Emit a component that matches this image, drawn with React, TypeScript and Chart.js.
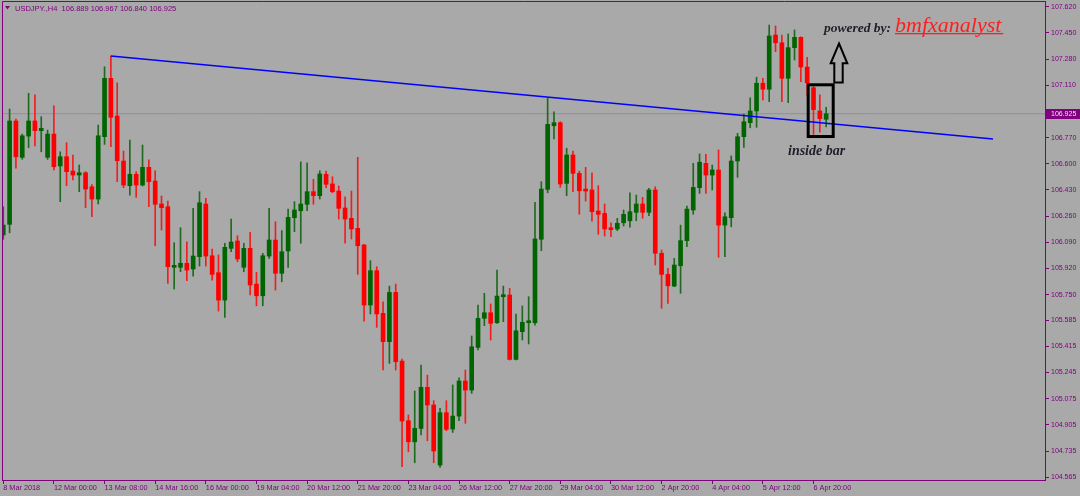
import React, { useEffect, useRef } from "react";
import { Chart, registerables } from "chart.js";

Chart.register(...registerables);

// ---- data (USDJPY H4, bar index 0 = 8 Mar 2018 16:00) ----
const opens = [
  106.138, 106.207, 106.878, 106.642, 106.780, 106.878, 106.815, 106.642, 106.793, 106.586,
  106.646, 106.553, 106.527, 106.542, 106.451, 106.371, 106.776, 107.155, 106.910, 106.618,
  106.458, 106.532, 106.462, 106.577, 106.488, 106.339, 106.321, 105.928, 105.928, 105.954,
  105.917, 105.997, 106.339, 106.003, 105.893, 105.715, 106.051, 106.099, 105.928, 106.051,
  105.819, 105.743, 106.001, 106.105, 105.889, 106.034, 106.250, 106.295, 106.337, 106.419,
  106.393, 106.532, 106.469, 106.423, 106.313, 106.246, 106.181, 106.073, 105.683, 105.906,
  105.629, 105.445, 105.765, 105.319, 104.932, 104.795, 104.882, 105.149, 105.034, 104.644,
  104.984, 104.878, 104.962, 105.190, 105.131, 105.408, 105.597, 105.633, 105.568, 105.737,
  105.748, 105.330, 105.510, 105.568, 105.568, 106.110, 106.434, 106.847, 106.867, 106.473,
  106.657, 106.538, 106.434, 106.430, 106.293, 106.278, 106.181, 106.177, 106.217, 106.230,
  106.285, 106.339, 106.285, 106.430, 106.019, 105.882, 105.806, 105.938, 106.101, 106.300,
  106.445, 106.603, 106.527, 106.560, 106.202, 106.250, 106.618, 106.776, 106.867, 106.943,
  107.123, 107.084, 107.436, 107.386, 107.155, 107.354, 107.421, 107.228, 107.094, 106.943,
  106.889,
];
const highs = [
  106.321, 106.956, 106.891, 106.793, 107.058, 107.047, 106.906, 106.819, 106.977, 106.678,
  106.737, 106.657, 106.592, 106.549, 106.465, 106.852, 107.230, 107.300, 107.126, 106.683,
  106.754, 106.549, 106.722, 106.625, 106.555, 106.391, 106.358, 106.088, 106.185, 106.094,
  106.311, 106.419, 106.376, 106.047, 106.008, 106.084, 106.241, 106.133, 106.084, 106.155,
  105.895, 106.019, 106.311, 106.224, 106.166, 106.306, 106.354, 106.613, 106.607, 106.499,
  106.555, 106.553, 106.516, 106.456, 106.386, 106.423, 106.642, 106.077, 105.971, 105.932,
  105.704, 105.806, 105.819, 105.332, 104.969, 105.125, 105.293, 105.228, 105.062, 105.012,
  105.062, 105.164, 105.211, 105.261, 105.482, 105.683, 105.759, 105.690, 105.910, 105.806,
  105.791, 105.625, 105.677, 105.737, 106.350, 106.484, 107.025, 106.938, 106.873, 106.701,
  106.683, 106.553, 106.577, 106.542, 106.458, 106.339, 106.217, 106.246, 106.300, 106.412,
  106.397, 106.382, 106.441, 106.451, 106.040, 105.921, 105.986, 106.202, 106.326, 106.603,
  106.664, 106.662, 106.592, 106.690, 106.282, 106.651, 106.798, 106.923, 107.029, 107.162,
  107.155, 107.501, 107.495, 107.436, 107.443, 107.469, 107.425, 107.291, 107.112, 107.047,
  106.967,
];
const lows = [
  106.110, 106.152, 106.571, 106.629, 106.704, 106.716, 106.678, 106.629, 106.560, 106.354,
  106.458, 106.495, 106.419, 106.315, 106.256, 106.339, 106.726, 106.711, 106.484, 106.445,
  106.397, 106.382, 106.456, 106.321, 106.068, 106.170, 105.824, 105.787, 105.899, 105.841,
  105.871, 105.936, 105.936, 105.845, 105.644, 105.603, 106.029, 105.964, 105.899, 105.748,
  105.678, 105.678, 105.986, 105.780, 105.834, 105.928, 106.159, 106.084, 106.295, 106.337,
  106.371, 106.445, 106.412, 106.241, 106.084, 106.112, 105.882, 105.579, 105.625, 105.538,
  105.261, 105.304, 105.261, 104.633, 104.730, 104.659, 104.839, 104.802, 104.659, 104.629,
  104.867, 104.856, 104.932, 104.915, 105.110, 105.391, 105.549, 105.456, 105.564, 105.575,
  105.326, 105.326, 105.456, 105.430, 105.553, 106.036, 106.412, 106.761, 106.447, 106.393,
  106.419, 106.272, 106.358, 106.228, 106.142, 106.131, 106.127, 106.166, 106.196, 106.188,
  106.230, 106.246, 106.263, 105.943, 105.662, 105.694, 105.802, 105.759, 106.062, 106.272,
  106.408, 106.408, 106.430, 105.993, 105.997, 106.191, 106.512, 106.707, 106.834, 106.837,
  107.014, 107.003, 107.328, 107.003, 106.997, 107.274, 107.133, 107.040, 106.791, 106.806,
  106.840,
];
const closes = [
  106.202, 106.878, 106.646, 106.782, 106.878, 106.815, 106.830, 106.793, 106.581, 106.646,
  106.549, 106.527, 106.542, 106.436, 106.371, 106.782, 107.155, 106.902, 106.620, 106.462,
  106.532, 106.462, 106.577, 106.484, 106.337, 106.315, 105.932, 105.938, 105.954, 105.910,
  106.001, 106.347, 106.001, 105.882, 105.715, 106.058, 106.092, 105.982, 106.051, 105.813,
  105.743, 106.003, 106.105, 105.889, 106.029, 106.252, 106.300, 106.339, 106.419, 106.393,
  106.534, 106.467, 106.419, 106.311, 106.241, 106.177, 106.068, 105.683, 105.906, 105.625,
  105.445, 105.765, 105.315, 104.930, 104.795, 104.882, 105.149, 105.034, 104.735, 104.984,
  104.876, 104.962, 105.190, 105.131, 105.412, 105.597, 105.633, 105.564, 105.741, 105.748,
  105.330, 105.516, 105.571, 105.579, 106.112, 106.436, 106.856, 106.867, 106.469, 106.657,
  106.538, 106.425, 106.423, 106.289, 106.272, 106.177, 106.172, 106.214, 106.272, 106.289,
  106.339, 106.285, 106.430, 106.019, 105.882, 105.808, 105.943, 106.101, 106.306, 106.447,
  106.610, 106.527, 106.560, 106.202, 106.256, 106.618, 106.776, 106.873, 106.943, 107.123,
  107.084, 107.430, 107.386, 107.155, 107.354, 107.421, 107.228, 107.126, 106.952, 106.893,
  106.925,
];

const xTickLabels = [
  "8 Mar 2018", "12 Mar 00:00", "13 Mar 08:00", "14 Mar 16:00", "16 Mar 00:00",
  "19 Mar 04:00", "20 Mar 12:00", "21 Mar 20:00", "23 Mar 04:00", "26 Mar 12:00",
  "27 Mar 20:00", "29 Mar 04:00", "30 Mar 12:00", "2 Apr 20:00", "4 Apr 04:00",
  "5 Apr 12:00", "6 Apr 20:00",
];
const barsPerXTick = 8;
const yTickLabels = [
  "107.620", "107.450", "107.280", "107.110", "106.770", "106.600", "106.430",
  "106.260", "106.090", "105.920", "105.750", "105.585", "105.415", "105.245",
  "105.075", "104.905", "104.735", "104.565",
];
const currentPrice = 106.925;
const currentPriceLabel = "106.925";
const headerText = "USDJPY.,H4  106.889 106.967 106.840 106.925";
const trendBars = [17, 156.36];
const trendPrices = [107.300, 106.761];
const boxBars = [127.16, 131.11];
const boxPrices = [107.113, 106.777];

// ---- styles ----
const BG = "#A9A9A9";
const AXIS = "#800080";
const BULL = "#006400";
const BEAR = "#FF0000";
const WICK_BULL = "#1F6A1F";
const WICK_BEAR = "#F21E1E";
const X_MIN = -0.2;
const X_MAX = 164.57;
const Y_MIN = 104.547;
const Y_MAX = 107.657;

export default function App() {
  const ref = useRef<HTMLCanvasElement>(null);

  useEffect(() => {
    const canvas = ref.current;
    if (!canvas) return;
    const idx = opens.map((_, i) => i);
    const bull = idx.map((i) => closes[i] >= opens[i]);

    const decor = {
      id: "decor",
      beforeDraw(chart: any) {
        const ctx = chart.ctx;
        ctx.save();
        ctx.fillStyle = BG;
        ctx.fillRect(0, 0, chart.width, chart.height);
        ctx.restore();
      },
      afterDraw(chart: any) {
        const ctx = chart.ctx;
        const a = chart.chartArea;
        const xs = chart.scales.x;
        const ys = chart.scales.y;
        ctx.save();
        // frame (left + top)
        ctx.strokeStyle = AXIS;
        ctx.lineWidth = 1;
        ctx.beginPath();
        ctx.moveTo(a.left + 0.5, a.bottom);
        ctx.lineTo(a.left + 0.5, a.top + 0.5);
        ctx.lineTo(a.right, a.top + 0.5);
        ctx.stroke();

        // current price label
        const py = ys.getPixelForValue(currentPrice);
        ctx.fillStyle = AXIS;
        ctx.fillRect(a.right + 1, Math.round(py) - 5, 36, 10);
        ctx.fillStyle = "#E6E6E6";
        ctx.font = "7px 'Liberation Sans'";
        ctx.textBaseline = "middle";
        ctx.textAlign = "left";
        ctx.fillText(currentPriceLabel, a.right + 6, py + 0.5);

        // header
        ctx.fillStyle = AXIS;
        ctx.beginPath();
        ctx.moveTo(5, 6);
        ctx.lineTo(10, 6);
        ctx.lineTo(7.5, 9.5);
        ctx.closePath();
        ctx.fill();
        ctx.font = "7.5px 'Liberation Sans'";
        ctx.textBaseline = "alphabetic";
        ctx.fillText(headerText, 15, 11);

        // inside-bar box
        const bx0 = xs.getPixelForValue(boxBars[0]);
        const bx1 = xs.getPixelForValue(boxBars[1]);
        const by0 = ys.getPixelForValue(boxPrices[0]);
        const by1 = ys.getPixelForValue(boxPrices[1]);
        ctx.strokeStyle = "#000000";
        ctx.lineWidth = 3;
        ctx.strokeRect(bx0, by0, bx1 - bx0, by1 - by0);

        // hollow up arrow
        ctx.lineWidth = 2;
        ctx.beginPath();
        ctx.moveTo(839, 43.5);
        ctx.lineTo(847.3, 63.3);
        ctx.lineTo(842.7, 63.3);
        ctx.lineTo(842.7, 82.5);
        ctx.lineTo(834.3, 82.5);
        ctx.lineTo(834.3, 63.3);
        ctx.lineTo(830.7, 63.3);
        ctx.closePath();
        ctx.stroke();

        // texts
        ctx.fillStyle = "#1E1E2A";
        ctx.textAlign = "left";
        ctx.textBaseline = "alphabetic";
        ctx.font = "italic bold 13.5px 'Liberation Serif'";
        ctx.fillText("powered by:", 824, 31.5);
        ctx.font = "italic bold 14px 'Liberation Serif'";
        ctx.fillText("inside bar", 788, 155);
        ctx.fillStyle = "#FF1E1E";
        ctx.font = "italic 22px 'Liberation Serif'";
        ctx.fillText("bmfxanalyst", 895, 31.5);
        const w = ctx.measureText("bmfxanalyst").width;
        ctx.fillRect(895, 33, w + 2, 1.3);
        ctx.restore();
      },
    };

    const chart = new Chart(canvas, {
      type: "bar",
      data: {
        datasets: [
          {
            type: "line",
            label: "bid",
            data: [
              { x: X_MIN, y: currentPrice },
              { x: X_MAX, y: currentPrice },
            ],
            borderColor: "#8E8EA2",
            borderWidth: 1,
            pointRadius: 0,
            order: 10,
          } as any,
          {
            type: "bar",
            label: "wicks",
            data: idx.map((i) => ({ x: i, y: [lows[i], highs[i]] })),
            backgroundColor: idx.map((i) => (bull[i] ? WICK_BULL : WICK_BEAR)),
            borderWidth: 0,
            grouped: false,
            barPercentage: 1,
            categoryPercentage: 1,
            maxBarThickness: 1,
            order: 5,
          } as any,
          {
            type: "bar",
            label: "bodies",
            data: idx.map((i) => ({ x: i, y: [opens[i], closes[i]] })),
            backgroundColor: idx.map((i) => (bull[i] ? BULL : BEAR)),
            borderWidth: 0,
            grouped: false,
            barPercentage: 1,
            categoryPercentage: 1,
            maxBarThickness: 4,
            minBarLength: 2,
            order: 4,
          } as any,
          {
            type: "line",
            label: "trend",
            data: trendBars.map((b, k) => ({ x: b, y: trendPrices[k] })),
            borderColor: "#0000FF",
            borderWidth: 1.6,
            pointRadius: 0,
            order: 1,
          } as any,
        ],
      },
      options: {
        animation: false,
        responsive: false,
        devicePixelRatio: 1,
        layout: { padding: { left: 2, top: 1, right: 0, bottom: 0 } },
        plugins: {
          legend: { display: false },
          tooltip: { enabled: false },
          title: { display: false },
        },
        scales: {
          x: {
            type: "linear",
            min: X_MIN,
            max: X_MAX,
            offset: false,
            afterBuildTicks: (s: any) => {
              s.ticks = xTickLabels.map((_, k) => ({ value: k * barsPerXTick }));
            },
            afterFit: (s: any) => {
              s.height = 16;
              s.paddingLeft = 0;
              s.paddingRight = 0;
            },
            grid: {
              display: true,
              drawOnChartArea: false,
              drawTicks: true,
              tickLength: 4,
              color: AXIS,
              offset: false,
            },
            border: { display: true, color: AXIS, width: 1 },
            ticks: {
              autoSkip: false,
              maxRotation: 0,
              minRotation: 0,
              align: "start",
              padding: 0,
              color: AXIS,
              font: { family: "'Liberation Sans'", size: 7.3 },
              callback: (_v: any, i: number) => xTickLabels[i] ?? "",
            },
          },
          y: {
            type: "linear",
            position: "right",
            min: Y_MIN,
            max: Y_MAX,
            afterBuildTicks: (s: any) => {
              s.ticks = yTickLabels.map((l) => ({ value: parseFloat(l) }));
            },
            afterFit: (s: any) => {
              s.width = 35;
              s.paddingTop = 0;
              s.paddingBottom = 0;
            },
            grid: {
              display: true,
              drawOnChartArea: false,
              drawTicks: true,
              tickLength: 4,
              color: AXIS,
            },
            border: { display: true, color: AXIS, width: 1 },
            ticks: {
              autoSkip: false,
              padding: 2,
              color: AXIS,
              font: { family: "'Liberation Sans'", size: 7 },
              callback: (_v: any, i: number) => yTickLabels[i] ?? "",
            },
          },
        },
      } as any,
      plugins: [decor],
    });
    return () => chart.destroy();
  }, []);

  return (
    <div style={{ position: "fixed", left: 0, top: 0, width: 1080, height: 496 }}>
      <canvas ref={ref} width={1080} height={496} style={{ display: "block", width: 1080, height: 496 }} />
    </div>
  );
}
